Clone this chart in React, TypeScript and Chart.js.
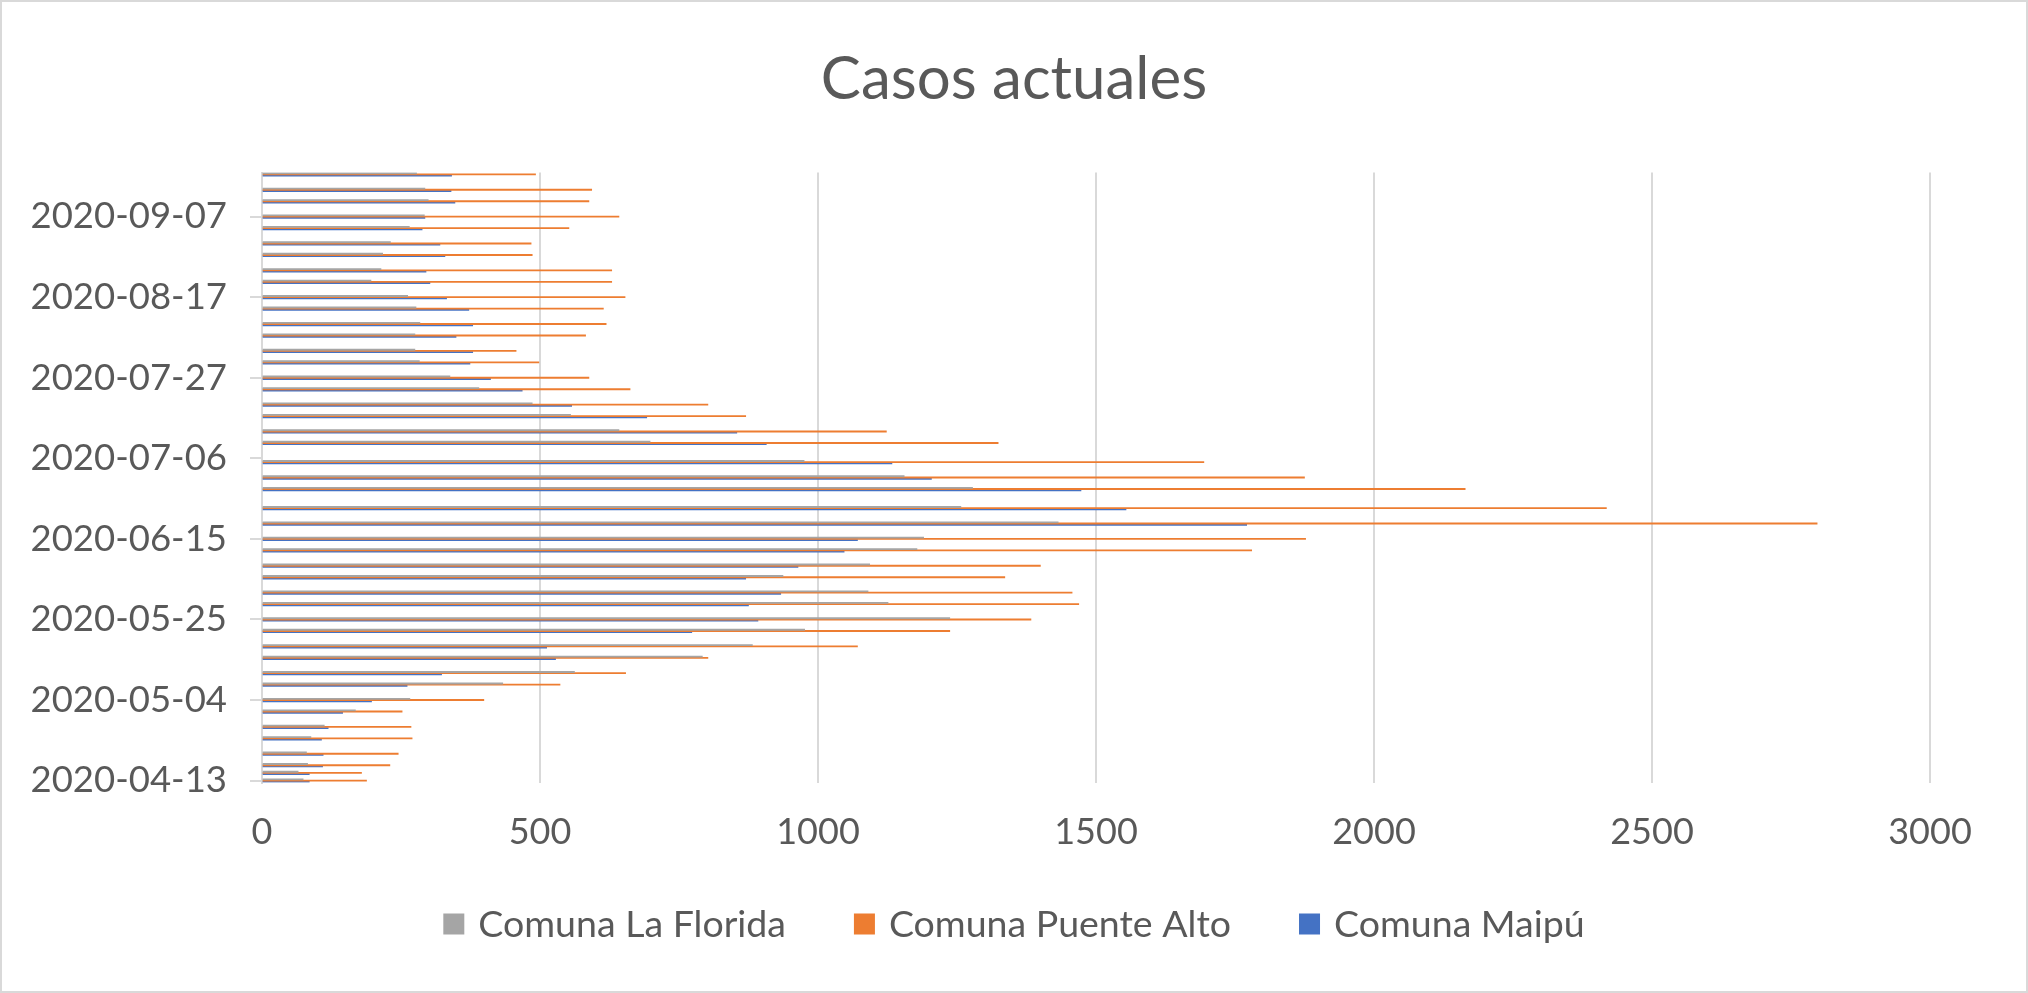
import React, { useEffect, useRef } from 'react';
import { Chart, registerables } from 'chart.js';

Chart.register(...registerables);

const TITLE = 'Casos actuales';

const dates = [
  '2020-04-13', '2020-04-15', '2020-04-17', '2020-04-20', '2020-04-24', '2020-04-27',
  '2020-05-01', '2020-05-04', '2020-05-08', '2020-05-11', '2020-05-15', '2020-05-18',
  '2020-05-22', '2020-05-25', '2020-05-29', '2020-06-01', '2020-06-05', '2020-06-08',
  '2020-06-12', '2020-06-15', '2020-06-19', '2020-06-23', '2020-06-28', '2020-07-01',
  '2020-07-05', '2020-07-10', '2020-07-13', '2020-07-17', '2020-07-20', '2020-07-24',
  '2020-07-27', '2020-07-31', '2020-08-03', '2020-08-07', '2020-08-10', '2020-08-14',
  '2020-08-17', '2020-08-21', '2020-08-24', '2020-08-28', '2020-08-31', '2020-09-04',
  '2020-09-07', '2020-09-11', '2020-09-14', '2020-09-18',
];

const laFlorida = [
  74, 65, 82, 80, 88, 112,
  168, 266, 433, 562, 792, 882,
  976, 1237, 1126, 1090, 937, 1093,
  1178, 1190, 1432, 1257, 1278, 1155,
  975, 698, 642, 555, 486, 390,
  338, 283, 275, 275, 284, 277,
  262, 196, 214, 217, 231, 265,
  292, 299, 293, 278,
];

const puenteAlto = [
  188, 179, 230, 245, 270, 268,
  252, 399, 536, 654, 802, 1071,
  1237, 1383, 1469, 1457, 1336, 1400,
  1780, 1877, 2797, 2418, 2164, 1875,
  1694, 1324, 1123, 870, 802, 662,
  588, 498, 457, 582, 619, 614,
  653, 629, 629, 486, 484, 552,
  642, 588, 593, 492,
];

const maipu = [
  85, 85, 109, 110, 107, 119,
  145, 197, 261, 323, 528, 512,
  773, 892, 875, 933, 870, 964,
  1047, 1071, 1771, 1554, 1473, 1204,
  1133, 907, 854, 692, 557, 468,
  411, 374, 379, 349, 379, 372,
  332, 302, 295, 329, 320, 288,
  293, 347, 340, 341,
];

const seriesNames = ['Comuna La Florida', 'Comuna Puente Alto', 'Comuna Maipú'];
const seriesColors = ['#A5A5A5', '#ED7D31', '#4472C4'];

const yTickLabels = [
  '2020-04-13', '2020-05-04', '2020-05-25', '2020-06-15',
  '2020-07-06', '2020-07-27', '2020-08-17', '2020-09-07',
];

const xMin = 0;
const xMax = 3000;
const xStep = 500;

const START = Date.UTC(2020, 3, 13);
function dayOf(s: string): number {
  const [y, m, d] = s.split('-').map(Number);
  return Math.round((Date.UTC(y, m - 1, d) - START) / 86400000);
}

const TEXT = '#595959';
const GRID = '#d9d9d9';
const FONT = 'Lato';

const framePlugin = {
  id: 'frame',
  beforeDraw(chart: any) {
    const { ctx, width, height } = chart;
    ctx.save();
    ctx.fillStyle = '#ffffff';
    ctx.fillRect(0, 0, width, height);
    ctx.restore();
  },
  afterDraw(chart: any) {
    const { ctx, width, height } = chart;
    ctx.save();
    ctx.strokeStyle = GRID;
    ctx.lineWidth = 2;
    ctx.strokeRect(1, 1, width - 2, height - 2);
    ctx.restore();
  },
};

const legendPlugin = {
  id: 'excelLegend',
  afterDraw(chart: any) {
    const ctx = chart.ctx;
    ctx.save();
    ctx.font = `37.5px ${FONT}`;
    ctx.textBaseline = 'middle';
    ctx.textAlign = 'left';
    const items = chart.data.datasets
      .filter((ds: any) => !ds.hiddenFromLegend)
      .map((ds: any) => ({ text: ds.label, color: ds.backgroundColor }));
    const box = 21;
    const gap = 14;
    const itemGap = 68;
    const widths = items.map((it: any) => box + gap + ctx.measureText(it.text).width);
    const total = widths.reduce((a: number, b: number) => a + b, 0) + itemGap * (items.length - 1);
    let x = chart.width / 2 - total / 2;
    const y = 924;
    items.forEach((it: any, i: number) => {
      ctx.fillStyle = it.color;
      ctx.fillRect(x, y - box / 2, box, box);
      ctx.fillStyle = TEXT;
      ctx.fillText(it.text, x + box + gap, y + 1);
      x += widths[i] + itemGap;
    });
    ctx.restore();
  },
};

export default function App() {
  const canvasRef = useRef<HTMLCanvasElement | null>(null);

  useEffect(() => {
    document.body.style.margin = '0';
    const canvas = canvasRef.current;
    if (!canvas) return;

    const series = [laFlorida, puenteAlto, maipu];
    const days = dates.map(dayOf);
    const tickDays = yTickLabels.map(dayOf);
    const yMin = days[0] - 0.5;
    const yMax = days[days.length - 1] + 0.5;

    const chart = new Chart(canvas, {
      type: 'bar',
      data: {
        datasets: series.map((vals, si) => ({
          label: seriesNames[si],
          data: days.map((d, i) => ({ x: vals[i], y: d })),
          backgroundColor: seriesColors[si],
          borderWidth: 0,
          barThickness: 1.2,
        })),
      },
      options: {
        indexAxis: 'y',
        animation: false,
        responsive: false,
        maintainAspectRatio: false,
        layout: { padding: { left: 0, right: 0, top: 0, bottom: 110.5 } },
        plugins: {
          legend: { display: false },
          tooltip: { enabled: false },
          title: {
            display: true,
            text: TITLE,
            color: TEXT,
            font: { family: FONT, size: 60, weight: 'normal' },
            padding: { top: 44, bottom: 56.5 },
          },
        },
        scales: {
          x: {
            type: 'linear',
            min: xMin,
            max: xMax,
            ticks: {
              stepSize: xStep,
              color: TEXT,
              font: { family: FONT, size: 36 },
              padding: 28,
              maxRotation: 0,
              callback: (value: any) => String(value),
            },
            grid: { color: GRID, lineWidth: 2, drawTicks: false },
            border: { display: false },
            afterFit: (scale: any) => {
              scale.height = 100;
            },
          },
          y: {
            type: 'linear',
            min: yMin,
            max: yMax,
            offset: false,
            afterBuildTicks: (scale: any) => {
              scale.ticks = tickDays.map((v) => ({ value: v }));
            },
            ticks: {
              color: TEXT,
              font: { family: FONT, size: 36.5 },
              padding: 23,
              callback: (value: any) => {
                const idx = tickDays.indexOf(Number(value));
                return idx >= 0 ? yTickLabels[idx] : '';
              },
            },
            grid: {
              offset: false,
              drawOnChartArea: false,
              drawTicks: true,
              tickLength: 12,
              color: GRID,
              lineWidth: 2,
            },
            border: { display: true, color: GRID, width: 2 },
            afterFit: (scale: any) => {
              scale.width = 262;
            },
          },
          // empty right-hand margin of the plot area (no ticks, no lines)
          rightMargin: {
            type: 'linear',
            axis: 'y',
            position: 'right',
            display: true,
            ticks: { display: false },
            grid: { display: false, drawTicks: false },
            border: { display: false },
            afterFit: (scale: any) => {
              scale.width = 98;
            },
          },
        },
      } as any,
      plugins: [framePlugin, legendPlugin],
    });

    return () => {
      chart.destroy();
    };
  }, []);

  return (
    <div style={{ width: 2028, height: 993, overflow: 'hidden' }}>
      <canvas ref={canvasRef} width={2028} height={993} style={{ display: 'block', width: 2028, height: 993 }} />
    </div>
  );
}
